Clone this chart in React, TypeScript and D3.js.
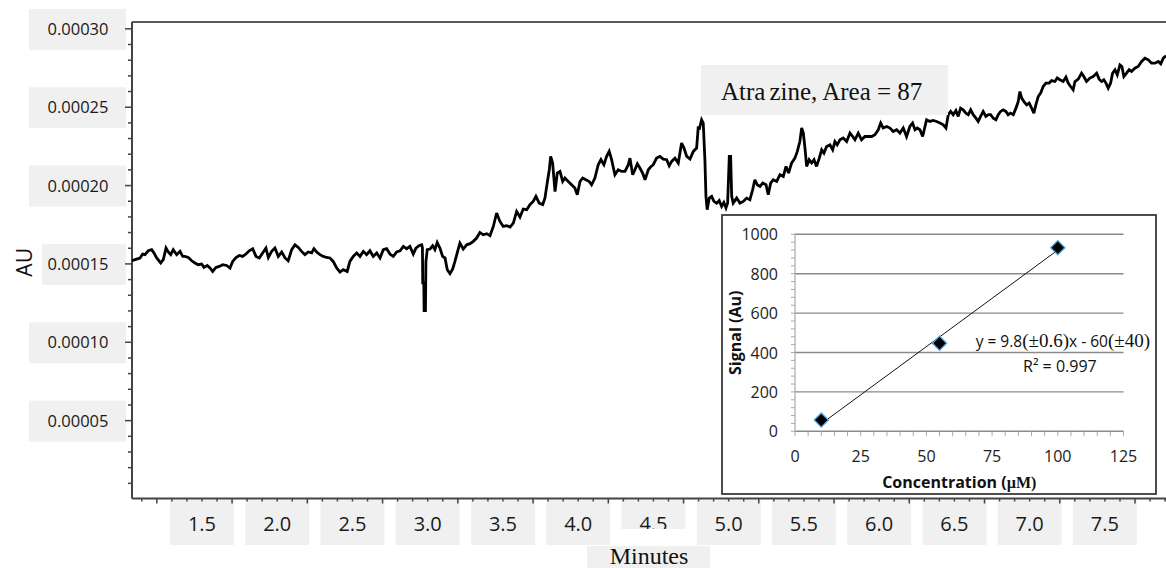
import React from "react";
import * as d3 from "d3";

// Chromatogram trace: retention time (minutes) and absorbance (in units of 1e-5 AU)
const traceMinutes: number[] = [
  1.035, 1.055, 1.088, 1.106, 1.121, 1.143, 1.166, 1.181, 1.199, 1.226, 1.243, 1.261, 1.276, 1.292, 1.309, 1.332,
  1.354, 1.372, 1.387, 1.409, 1.432, 1.453, 1.475, 1.498, 1.513, 1.535, 1.553, 1.571, 1.593, 1.615, 1.638, 1.664,
  1.686, 1.704, 1.726, 1.748, 1.770, 1.792, 1.814, 1.837, 1.859, 1.881, 1.903, 1.925, 1.941, 1.963, 1.985, 2.007,
  2.030, 2.052, 2.073, 2.096, 2.118, 2.140, 2.162, 2.184, 2.206, 2.229, 2.244, 2.262, 2.284, 2.306, 2.328, 2.350,
  2.372, 2.395, 2.417, 2.439, 2.465, 2.483, 2.505, 2.528, 2.550, 2.572, 2.594, 2.616, 2.638, 2.661, 2.683, 2.705,
  2.727, 2.749, 2.771, 2.794, 2.816, 2.838, 2.860, 2.882, 2.904, 2.922, 2.944, 2.960, 2.965, 2.967, 2.974, 2.976,
  2.985, 2.988, 2.997, 3.015, 3.033, 3.048, 3.063, 3.081, 3.099, 3.115, 3.130, 3.148, 3.166, 3.181, 3.196, 3.214,
  3.236, 3.259, 3.281, 3.303, 3.325, 3.347, 3.369, 3.392, 3.414, 3.436, 3.458, 3.480, 3.502, 3.525, 3.547, 3.569,
  3.591, 3.613, 3.635, 3.658, 3.679, 3.701, 3.719, 3.741, 3.764, 3.779, 3.794, 3.808, 3.817, 3.830, 3.846, 3.861,
  3.879, 3.897, 3.912, 3.934, 3.956, 3.978, 3.994, 4.012, 4.030, 4.051, 4.073, 4.089, 4.111, 4.133, 4.151, 4.171,
  4.189, 4.206, 4.222, 4.244, 4.266, 4.289, 4.311, 4.333, 4.344, 4.362, 4.377, 4.393, 4.410, 4.428, 4.444, 4.466,
  4.481, 4.499, 4.521, 4.543, 4.565, 4.588, 4.605, 4.621, 4.643, 4.665, 4.687, 4.703, 4.721, 4.743, 4.765, 4.787,
  4.798, 4.804, 4.820, 4.831, 4.842, 4.849, 4.857, 4.871, 4.887, 4.902, 4.920, 4.937, 4.953, 4.968, 4.982, 4.993,
  5.004, 5.013, 5.020, 5.030, 5.053, 5.075, 5.097, 5.119, 5.141, 5.159, 5.174, 5.190, 5.208, 5.226, 5.248, 5.263,
  5.279, 5.296, 5.319, 5.341, 5.363, 5.381, 5.398, 5.418, 5.440, 5.456, 5.473, 5.485, 5.496, 5.507, 5.518, 5.535,
  5.551, 5.567, 5.584, 5.602, 5.618, 5.633, 5.651, 5.673, 5.691, 5.706, 5.721, 5.739, 5.761, 5.784, 5.806, 5.824,
  5.839, 5.861, 5.883, 5.905, 5.927, 5.950, 5.972, 5.994, 6.010, 6.027, 6.050, 6.072, 6.093, 6.116, 6.138, 6.160,
  6.182, 6.204, 6.222, 6.238, 6.253, 6.271, 6.289, 6.315, 6.337, 6.359, 6.382, 6.404, 6.426, 6.444, 6.459, 6.475,
  6.492, 6.510, 6.525, 6.541, 6.558, 6.576, 6.592, 6.608, 6.625, 6.643, 6.658, 6.674, 6.691, 6.709, 6.725, 6.740,
  6.758, 6.776, 6.791, 6.807, 6.824, 6.842, 6.857, 6.873, 6.891, 6.909, 6.924, 6.935, 6.947, 6.962, 6.980, 6.997,
  7.013, 7.028, 7.041, 7.057, 7.073, 7.090, 7.108, 7.130, 7.146, 7.168, 7.183, 7.201, 7.223, 7.241, 7.256, 7.272,
  7.289, 7.301, 7.323, 7.345, 7.360, 7.378, 7.400, 7.422, 7.445, 7.462, 7.478, 7.493, 7.507, 7.522, 7.538, 7.551,
  7.567, 7.582, 7.600, 7.613, 7.626, 7.644, 7.661, 7.677, 7.699, 7.721, 7.744, 7.766, 7.788, 7.810, 7.832, 7.855,
  7.871, 7.888, 7.906,
];
const traceAbsE5: number[] = [
  15.20, 15.27, 15.38, 15.63, 15.59, 15.84, 15.91, 15.70, 15.38, 15.06, 15.27, 16.01, 15.76, 15.59, 15.91, 15.59,
  15.80, 15.48, 15.48, 15.41, 15.20, 15.06, 14.95, 14.99, 14.78, 14.90, 14.74, 14.52, 14.78, 14.84, 14.95, 14.90,
  14.74, 15.16, 15.41, 15.54, 15.48, 15.63, 15.84, 15.97, 15.48, 15.38, 15.70, 16.01, 15.41, 15.80, 16.01, 15.48,
  15.76, 15.38, 15.20, 15.91, 16.22, 16.05, 15.80, 15.59, 15.76, 15.70, 15.97, 15.76, 15.59, 15.48, 15.41, 15.38,
  15.16, 14.74, 14.48, 14.63, 14.52, 15.16, 15.48, 15.70, 15.48, 15.80, 15.59, 15.84, 15.48, 15.70, 15.38, 15.91,
  15.97, 15.63, 15.48, 15.76, 15.84, 16.12, 15.97, 16.12, 15.63, 16.01, 16.18, 16.22, 16.03, 13.80, 13.80, 12.02,
  12.02, 15.14, 15.91, 15.95, 16.16, 15.91, 16.37, 16.01, 15.48, 15.38, 14.63, 14.38, 14.68, 15.16, 15.70, 16.33,
  15.95, 16.22, 16.29, 16.44, 16.65, 17.01, 16.86, 16.93, 16.80, 17.39, 18.25, 17.71, 17.39, 17.44, 17.35, 17.61,
  18.35, 17.99, 18.50, 18.46, 18.78, 18.99, 19.31, 18.88, 18.78, 19.20, 20.16, 21.01, 21.86, 21.44, 19.62, 20.80,
  20.90, 20.26, 20.48, 20.26, 20.05, 19.84, 19.41, 20.26, 20.48, 20.37, 20.26, 20.05, 20.48, 21.33, 21.65, 21.33,
  21.86, 22.18, 21.65, 20.69, 21.01, 20.90, 20.90, 21.33, 21.75, 20.69, 21.01, 21.39, 21.12, 20.80, 20.37, 21.01,
  21.18, 21.33, 21.75, 21.86, 21.69, 21.65, 21.26, 21.54, 21.75, 21.44, 22.71, 22.39, 21.86, 21.69, 22.18, 22.39,
  23.77, 23.56, 24.20, 23.99, 21.65, 19.31, 18.46, 19.20, 19.31, 18.99, 18.88, 19.05, 18.67, 18.92, 18.57, 18.88,
  21.86, 21.86, 19.31, 18.88, 19.20, 18.88, 18.99, 19.20, 19.09, 19.73, 20.37, 20.05, 19.94, 20.16, 20.05, 19.41,
  20.16, 20.37, 20.26, 20.69, 20.58, 21.22, 20.80, 21.44, 21.75, 22.18, 22.81, 23.67, 23.35, 22.39, 21.22, 21.65,
  21.44, 21.65, 21.22, 21.75, 22.28, 22.07, 22.49, 22.60, 22.28, 22.81, 22.60, 22.92, 23.03, 22.81, 23.35, 23.13,
  22.92, 23.35, 22.92, 23.13, 23.13, 23.13, 23.24, 23.56, 23.99, 23.67, 23.77, 23.67, 23.45, 23.56, 23.35, 23.67,
  23.13, 23.77, 23.99, 23.56, 23.67, 23.56, 23.13, 24.20, 24.09, 24.15, 24.09, 23.99, 23.88, 23.67, 24.52, 24.73,
  24.52, 24.79, 24.41, 24.94, 24.83, 24.62, 24.52, 24.83, 24.52, 24.30, 24.09, 24.41, 24.73, 24.41, 24.52, 24.52,
  24.30, 24.20, 24.52, 24.73, 24.83, 24.73, 24.52, 24.62, 24.52, 24.94, 25.36, 26.00, 25.58, 25.36, 25.15, 25.26,
  24.94, 24.62, 25.15, 25.68, 25.90, 26.32, 26.54, 26.54, 26.70, 26.64, 26.86, 26.75, 26.64, 26.92, 26.54, 26.32,
  26.11, 26.64, 26.79, 27.17, 26.96, 26.64, 26.86, 26.96, 27.17, 26.79, 26.64, 26.75, 26.54, 26.22, 26.54, 27.17,
  27.39, 27.07, 27.70, 27.60, 26.96, 27.17, 27.39, 27.28, 27.49, 27.60, 27.92, 28.13, 28.02, 27.81, 27.81, 27.92,
  27.77, 28.13, 28.28,
];
const AU_UNIT = 1e-5;

const xTickLabels = ["1.5", "2.0", "2.5", "3.0", "3.5", "4.0", "4.5", "5.0", "5.5", "6.0", "6.5", "7.0", "7.5"];
const yTickLabels = ["0.00005", "0.00010", "0.00015", "0.00020", "0.00025", "0.00030"];
const xTitle = "Minutes";
const yTitle = "AU";
const annotationText = ["Atra", "zine, Area = 87"];

// Inset calibration plot
const calConcentration = [10, 55, 100];
const calSignal = [57, 447, 932];
const fitSlope = 9.8;
const fitIntercept = -60;
const insetXTicks = [0, 25, 50, 75, 100, 125];
const insetYTicks = [0, 200, 400, 600, 800, 1000];

const SANS = "'Open Sans', 'Noto Sans', sans-serif";
const SERIF = "'Liberation Serif', 'Times New Roman', serif";
const BOX = "#f0f0f0";

export default function App() {
  const W = 1166, H = 568;
  const L = 132, R = 1166, T = 22, B = 498.5;
  const x = d3.scaleLinear().domain([1.035, 7.906]).range([L, R]);
  const y = d3.scaleLinear().domain([0, 0.000305]).range([499, 21]);

  const pts: [number, number][] = traceMinutes.map((t, i) => [t, traceAbsE5[i] * AU_UNIT]);
  const tracePath = d3.line<[number, number]>().x((d) => x(d[0])).y((d) => y(d[1]))(pts) || "";

  const xMinor = d3.range(11, 80).map((k) => k / 10);
  const yMinor = d3.range(1, 31);

  const auY = y(0.000151);

  // inset
  const iL = 722, iT = 215, iR = 1156, iB = 494;
  const ix = d3.scaleLinear().domain([0, 125]).range([795, 1123.5]);
  const iy = d3.scaleLinear().domain([0, 1000]).range([431.3, 234.3]);
  const iyMinor = d3.range(0, 1001, 40);
  const ixMinor = d3.range(0, 126, 5);
  const diamond = d3.symbol().type(d3.symbolSquare).size(100)() || "";
  const fitX0 = calConcentration[0], fitX1 = calConcentration[calConcentration.length - 1];

  const label45 = x(4.5);

  return (
    <svg width={W} height={H} style={{ position: "absolute", left: 0, top: 0, background: "#fff" }}>
      <rect x={0} y={0} width={W} height={H} fill="#fff" />

      {/* Y tick label boxes */}
      {yTickLabels.map((lab) => {
        const v = Number(lab);
        const yy = y(v);
        const left = Math.abs(yy - auY) < 30 ? 42 : 29;
        return (
          <g key={lab}>
            <rect x={left} y={yy - 20} width={126 - left} height={41} fill={BOX} />
            <text x={78} y={yy + 6} fontFamily={SANS} fontSize={16.5} textAnchor="middle" fill="#1a1a1a">{lab}</text>
          </g>
        );
      })}

      {/* AU title */}
      <text transform={`translate(32,${auY}) rotate(-90)`} fontFamily={SANS} fontSize={21} textAnchor="middle" fill="#111">{yTitle}</text>

      {/* X tick label boxes */}
      {xTickLabels.map((lab) => {
        const cx = x(Number(lab));
        return (
          <g key={lab}>
            <rect x={cx - 32} y={500} width={64} height={45} fill={BOX} />
            <text x={cx} y={531} fontFamily={SANS} fontSize={20} textAnchor="middle" fill="#1a1a1a">{lab}</text>
          </g>
        );
      })}
      <rect x={label45 - 34} y={529} width={68} height={17} fill="#fff" />

      {/* Minutes */}
      <rect x={587} y={546} width={123} height={22} fill={BOX} />
      <text x={(L + R) / 2} y={564} fontFamily={SERIF} fontSize={24} textAnchor="middle" fill="#111">{xTitle}</text>

      {/* frame */}
      <line x1={L} x2={R} y1={T} y2={T} stroke="#5a5a5a" strokeWidth={1.8} />
      <line x1={L} x2={L} y1={T} y2={B} stroke="#444" strokeWidth={2} />
      <line x1={L} x2={R} y1={B} y2={B} stroke="#444" strokeWidth={2} />

      {/* y ticks */}
      {yMinor.map((k) => {
        const yy = y(k * AU_UNIT);
        const major = k % 5 === 0;
        return <line key={k} x1={L - (major ? 7 : 4)} x2={L} y1={yy} y2={yy} stroke="#444" strokeWidth={1.5} />;
      })}
      {/* x ticks */}
      {xMinor.map((t) => {
        const xx = x(t);
        const k = Math.round(t * 10);
        const major = (k - 2) % 5 === 0;
        return <line key={k} x1={xx} x2={xx} y1={B} y2={B + (major ? 5 : 3)} stroke="#444" strokeWidth={1.5} />;
      })}

      {/* trace */}
      <path d={tracePath} fill="none" stroke="#000" strokeWidth={2.8} strokeLinejoin="miter" strokeMiterlimit={3} />

      {/* annotation */}
      <rect x={701} y={65} width={247} height={50} fill={BOX} />
      <text x={721} y={100} fontFamily={SERIF} fontSize={25} fill="#111">
        <tspan>{annotationText[0]}</tspan>
        <tspan dx={4}>{annotationText[1]}</tspan>
      </text>

      {/* inset */}
      <rect x={iL} y={iT} width={iR - iL} height={iB - iT} fill="#fff" stroke="#3a3a3a" strokeWidth={1.8} />
      {insetYTicks.map((v) => (
        <line key={v} x1={ix(0)} x2={ix(125)} y1={iy(v)} y2={iy(v)} stroke="#8a8a8a" strokeWidth={1.4} />
      ))}
      <line x1={ix(0)} x2={ix(0)} y1={iy(0)} y2={iy(1000)} stroke="#aaa" strokeWidth={1.2} />
      {iyMinor.map((v) => (
        <line key={v} x1={ix(0) - 4} x2={ix(0)} y1={iy(v)} y2={iy(v)} stroke="#aaa" strokeWidth={1} />
      ))}
      {ixMinor.map((v) => (
        <line key={v} x1={ix(v)} x2={ix(v)} y1={iy(0)} y2={iy(0) + 5} stroke="#aaa" strokeWidth={1} />
      ))}
      {insetYTicks.map((v) => (
        <text key={v} x={778} y={iy(v) + 6} fontFamily={SANS} fontSize={16} textAnchor="end" fill="#222">{v}</text>
      ))}
      {insetXTicks.map((v) => (
        <text key={v} x={ix(v)} y={461.5} fontFamily={SANS} fontSize={16} textAnchor="middle" fill="#222">{v}</text>
      ))}
      <text x={ix(62.5)} y={488} fontFamily={SANS} fontSize={16} fontWeight="bold" textAnchor="middle" fill="#111">
        Concentration (<tspan fontFamily={SERIF}>µM)</tspan>
      </text>
      <text transform={`translate(741,${iy(500)}) rotate(-90)`} fontFamily={SANS} fontSize={16} fontWeight="bold" textAnchor="middle" fill="#111">
        Signal (Au)
      </text>
      <line
        x1={ix(fitX0)} y1={iy(fitSlope * fitX0 + fitIntercept)}
        x2={ix(fitX1)} y2={iy(fitSlope * fitX1 + fitIntercept)}
        stroke="#111" strokeWidth={1}
      />
      {calConcentration.map((c, i) => (
        <path key={c} d={diamond} transform={`translate(${ix(c)},${iy(calSignal[i])}) rotate(45)`} fill="#000" stroke="#4ea6df" strokeWidth={1.3} />
      ))}
      <text x={1150} y={347} fontFamily={SANS} fontSize={15.5} textAnchor="end" fill="#111">
        <tspan>y = 9.8</tspan>
        <tspan fontFamily={SERIF} fontSize={19}>(±0.6)</tspan>
        <tspan>x - 60</tspan>
        <tspan fontFamily={SERIF} fontSize={19}>(±40)</tspan>
      </text>
      <text x={1023} y={371.5} fontFamily={SANS} fontSize={16} fill="#111">R² = 0.997</text>
    </svg>
  );
}
